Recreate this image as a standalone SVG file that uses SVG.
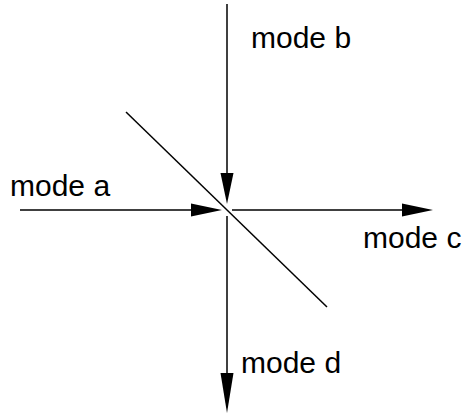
<svg xmlns="http://www.w3.org/2000/svg" width="462" height="417" viewBox="0 0 462 417">
<style>
.l{stroke:#000;stroke-width:1.5;fill:none}
.h{fill:#000}
text{font-family:"Liberation Sans",Arial,sans-serif;font-size:30px;fill:#000}
</style>
<rect width="462" height="417" fill="#fff"/>
<g id="connectors">
<line class="l" x1="126" y1="112" x2="327" y2="307"/>
<line class="l" x1="227" y1="4" x2="227" y2="178"/>
<polygon class="h" points="220.5,173 233.5,173 227,204"/>
<line class="l" x1="20" y1="210" x2="195" y2="210"/>
<polygon class="h" points="191,203.5 191,216.5 222,210"/>
<line class="l" x1="232" y1="210" x2="405" y2="210"/>
<polygon class="h" points="402,203.5 402,216.5 433,210"/>
<line class="l" x1="227" y1="216" x2="227" y2="378"/>
<polygon class="h" points="220.5,373 233.5,373 227,413"/>
</g>
<g id="mode-a"><text x="10" y="196">mode a</text></g>
<g id="mode-b"><text x="251" y="48">mode b</text></g>
<g id="mode-c"><text x="363" y="248">mode c</text></g>
<g id="mode-d"><text x="241" y="373">mode d</text></g>
</svg>
